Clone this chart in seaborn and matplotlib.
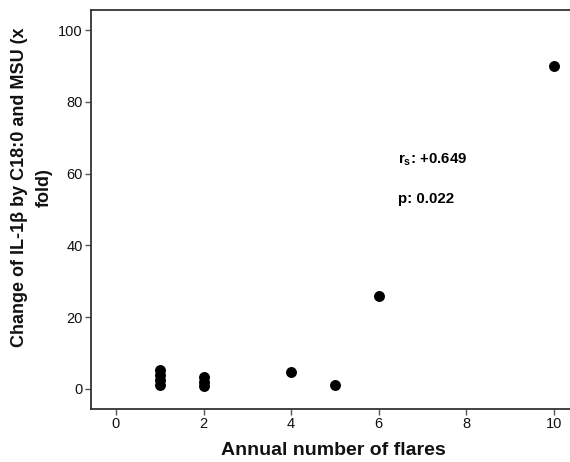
import matplotlib
matplotlib.use("Agg")
import matplotlib.pyplot as plt
import seaborn as sns
import pandas as pd

flares = [1, 1, 1, 1, 2, 2, 2, 4, 5, 6, 10]
change = [5.2, 3.8, 2.5, 1.2, 3.2, 2.0, 0.9, 4.6, 1.0, 25.8, 90.0]
x_ticks = [0, 2, 4, 6, 8, 10]
y_ticks = [0, 20, 40, 60, 80, 100]

sns.set_style("white")
plt.rcParams['font.family'] = ['Liberation Sans', 'DejaVu Sans']
plt.rcParams['text.color'] = 'black'
plt.rcParams['xtick.color'] = '#222222'
plt.rcParams['ytick.color'] = '#222222'

df = pd.DataFrame({"flares": flares, "change": change})

fig = plt.figure(figsize=(5.7, 4.62), dpi=100)
ax = fig.add_axes([91/570, 1 - 409/462, 1 - 91/570 + 0.01, (409 - 10)/462])
sns.scatterplot(data=df, x="flares", y="change", ax=ax, color="black",
                s=62, edgecolor="black", linewidth=0, zorder=3)

ax.set_xlim(-0.57, 10.5)
ax.set_ylim(-5.6, 105.6)
ax.set_xticks(x_ticks)
ax.set_yticks(y_ticks)
ax.tick_params(axis="both", direction="out", length=4, width=1, color="#555555",
               labelsize=10.5, pad=2, bottom=True, left=True, labelcolor="#111111")
for sp in ["left", "bottom", "top"]:
    ax.spines[sp].set_color("#333333")
    ax.spines[sp].set_linewidth(1.3)
ax.spines["right"].set_visible(False)

ax.set_xlabel("Annual number of flares", fontsize=14, fontweight="bold",
              labelpad=8, color="#111111")
ax.set_ylabel("Change of IL-1β by C18:0 and MSU (x\nfold)", fontsize=13,
              fontweight="bold", linespacing=1.6,
              multialignment="center", color="#111111")
ax.yaxis.set_label_coords(-0.078, 0.556)

ax.text(6.45, 64, r"r$_\mathregular{s}$: +0.649", fontsize=10.8, fontweight="bold",
        ha="left", va="center")
ax.text(6.45, 53, "p: 0.022", fontsize=10.8, fontweight="bold", ha="left", va="center")

fig.savefig("out.png", dpi=100)
